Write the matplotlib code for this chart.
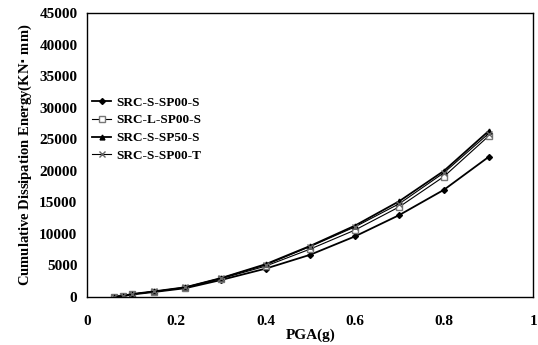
import matplotlib
matplotlib.use('Agg')
import matplotlib.pyplot as plt

plt.rcParams['font.family'] = ['Liberation Serif', 'DejaVu Serif']
plt.rcParams['font.weight'] = 'bold'

# PGA levels (g) and cumulative dissipation energy (kN*mm)
pga = [0.06, 0.08, 0.1, 0.15, 0.22, 0.3, 0.4, 0.5, 0.6, 0.7, 0.8, 0.9]
e_src_s_sp00_s = [50, 150, 400, 800, 1400, 2700, 4500, 6700, 9600, 13000, 17000, 22200]
e_src_l_sp00_s = [60, 170, 450, 850, 1500, 2900, 4900, 7600, 10600, 14300, 19100, 25500]
e_src_s_sp50_s = [60, 180, 470, 900, 1550, 3000, 5200, 8100, 11300, 15200, 20000, 26300]
e_src_s_sp00_t = [60, 180, 460, 880, 1550, 3000, 5100, 8000, 11100, 14800, 19700, 25900]

fig = plt.figure(figsize=(5.38, 3.45), dpi=100)
ax = fig.add_axes([0.162, 0.139, 0.829, 0.823])

ax.plot(pga, e_src_s_sp00_s, color='black', lw=1.3, marker='D', ms=3,
        mfc='black', mec='black', label='SRC-S-SP00-S')
ax.plot(pga, e_src_l_sp00_s, color='black', lw=0.8, marker='s', ms=4,
        mfc='white', mec='#777777', label='SRC-L-SP00-S')
ax.plot(pga, e_src_s_sp50_s, color='black', lw=1.3, marker='^', ms=3.5,
        mfc='black', mec='black', label='SRC-S-SP50-S')
ax.plot(pga, e_src_s_sp00_t, color='black', lw=0.8, marker='x', ms=4,
        mec='#666666', label='SRC-S-SP00-T')

ax.set_xlim(0, 1)
ax.set_ylim(0, 45000)
ax.set_xticks([0, 0.2, 0.4, 0.6, 0.8, 1])
ax.set_xticklabels(['0', '0.2', '0.4', '0.6', '0.8', '1'])
ax.set_yticks(range(0, 45001, 5000))
ax.tick_params(axis='both', length=0, labelsize=11)
ax.tick_params(axis='x', pad=13)
ax.tick_params(axis='y', pad=7)
for lbl in ax.get_xticklabels() + ax.get_yticklabels():
    lbl.set_fontweight('bold')

ax.set_xlabel('PGA(g)', fontsize=11, fontweight='bold', labelpad=0)
ax.set_ylabel('Cumulative Dissipation Energy(KN$\\cdot$ mm)', fontsize=10.5,
              fontweight='bold', labelpad=4)

for s in ax.spines.values():
    s.set_linewidth(1.0)

leg = ax.legend(loc='upper left', bbox_to_anchor=(0.0, 0.725), frameon=False,
                prop={'weight': 'bold', 'size': 9.5}, handlelength=1.4,
                handletextpad=0.4, labelspacing=0.42, borderaxespad=0.0)

fig.savefig('out.png', dpi=100)
